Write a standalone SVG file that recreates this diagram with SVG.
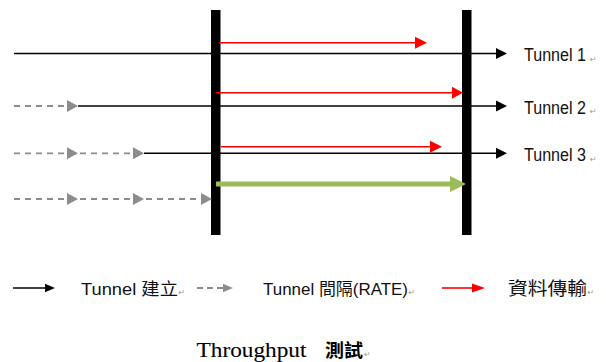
<svg xmlns="http://www.w3.org/2000/svg" width="606" height="362" viewBox="0 0 606 362">
<style>
.bar{fill:#000}
.blk{stroke:#000;stroke-width:1.6;fill:none}
.red{stroke:#ff0000;stroke-width:1.6;fill:none}
.gry{stroke:#8c8c8c;stroke-width:1.8;fill:none;stroke-dasharray:6 5}
.grn{stroke:#9bbb59;stroke-width:5;fill:none}
.hb{fill:#000}
.hr{fill:#ff0000}
.hg{fill:#8c8c8c}
.hgr{fill:#9bbb59}
.lbl{font-family:"Liberation Sans","Noto Sans CJK TC",sans-serif;font-size:17.5px;fill:#111}
.leg{font-family:"Liberation Sans","Noto Sans CJK TC",sans-serif;font-size:16.5px;fill:#111}
.ret{font-family:"DejaVu Sans",sans-serif;font-size:8px;fill:#999}
.ttl{font-family:"Liberation Serif",serif;font-size:22px;fill:#000;stroke:#000;stroke-width:0.1}
.ttc{font-family:"Noto Sans CJK TC",sans-serif;font-size:18px;font-weight:bold;fill:#000}
</style>
<g id="bar-left"><rect class="bar" x="211" y="10" width="9.5" height="225"/></g>
<g id="bar-right"><rect class="bar" x="462" y="10" width="9.5" height="225"/></g>
<g id="connectors">
  <line class="blk" x1="14" y1="53.5" x2="498" y2="53.5"/>
  <polygon class="hb" points="496,48 507,53.5 496,59"/>
  <line class="red" x1="219" y1="42.7" x2="417" y2="42.7"/>
  <polygon class="hr" points="415,36.7 427,42.7 415,48.7"/>
  <line class="gry" x1="14" y1="106" x2="67" y2="106"/>
  <polygon class="hg" points="67,100 78,106 67,112"/>
  <line class="blk" x1="78" y1="106" x2="498" y2="106"/>
  <polygon class="hb" points="496,100.5 507,106 496,111.5"/>
  <line class="red" x1="216" y1="92.7" x2="454" y2="92.7"/>
  <polygon class="hr" points="452,86.7 463,92.7 452,98.7"/>
  <line class="gry" x1="14" y1="153.3" x2="133" y2="153.3"/>
  <polygon class="hg" points="67,147.3 78,153.3 67,159.3"/>
  <polygon class="hg" points="133,147.3 144,153.3 133,159.3"/>
  <line class="blk" x1="144" y1="153.3" x2="498" y2="153.3"/>
  <polygon class="hb" points="496,147.8 507,153.3 496,158.8"/>
  <line class="red" x1="221" y1="146.7" x2="432" y2="146.7"/>
  <polygon class="hr" points="430,140.7 442,146.7 430,152.7"/>
  <line class="grn" x1="216" y1="184" x2="452" y2="184"/>
  <polygon class="hgr" points="450,176 466,184 450,192"/>
  <line class="gry" x1="14" y1="199" x2="201" y2="199"/>
  <polygon class="hg" points="67,193 78,199 67,205"/>
  <polygon class="hg" points="133,193 144,199 133,205"/>
  <polygon class="hg" points="201,193 212,199 201,205"/>
  <line class="blk" x1="13" y1="288" x2="46" y2="288"/>
  <polygon class="hb" points="45,283.8 55,288 45,292.2"/>
  <line class="gry" x1="197" y1="288" x2="223" y2="288" style="stroke-dasharray:6 4"/>
  <polygon class="hg" points="223,283.8 233,288 223,292.2"/>
  <line class="red" x1="442" y1="288" x2="473" y2="288"/>
  <polygon class="hr" points="472,283.5 485,288 472,292.5"/>
</g>
<g id="label-t1"><text class="lbl" x="524" y="61" textLength="62" lengthAdjust="spacingAndGlyphs">Tunnel 1</text><text class="ret" x="590" y="61.5">↵</text></g>
<g id="label-t2"><text class="lbl" x="524" y="113.5" textLength="62" lengthAdjust="spacingAndGlyphs">Tunnel 2</text><text class="ret" x="590" y="114">↵</text></g>
<g id="label-t3"><text class="lbl" x="524" y="161" textLength="62" lengthAdjust="spacingAndGlyphs">Tunnel 3</text><text class="ret" x="590" y="161.5">↵</text></g>
<g id="legend-build"><text class="leg" x="81" y="294.5" textLength="97" lengthAdjust="spacingAndGlyphs">Tunnel 建立</text><text class="ret" x="178.5" y="295">↵</text></g>
<g id="legend-rate"><text class="leg" x="263" y="294.5" textLength="145" lengthAdjust="spacingAndGlyphs">Tunnel 間隔(RATE)</text><text class="ret" x="408.5" y="295">↵</text></g>
<g id="legend-data"><text class="leg" x="508" y="295" style="font-size:18.5px" textLength="79" lengthAdjust="spacingAndGlyphs">資料傳輸</text><text class="ret" x="587.5" y="295">↵</text></g>
<g id="title"><text class="ttl" x="196.5" y="357" textLength="110" lengthAdjust="spacingAndGlyphs">Throughput</text><text class="ttc" x="325" y="357" textLength="38" lengthAdjust="spacingAndGlyphs">測試</text><text class="ret" x="364" y="357">↵</text></g>
</svg>
